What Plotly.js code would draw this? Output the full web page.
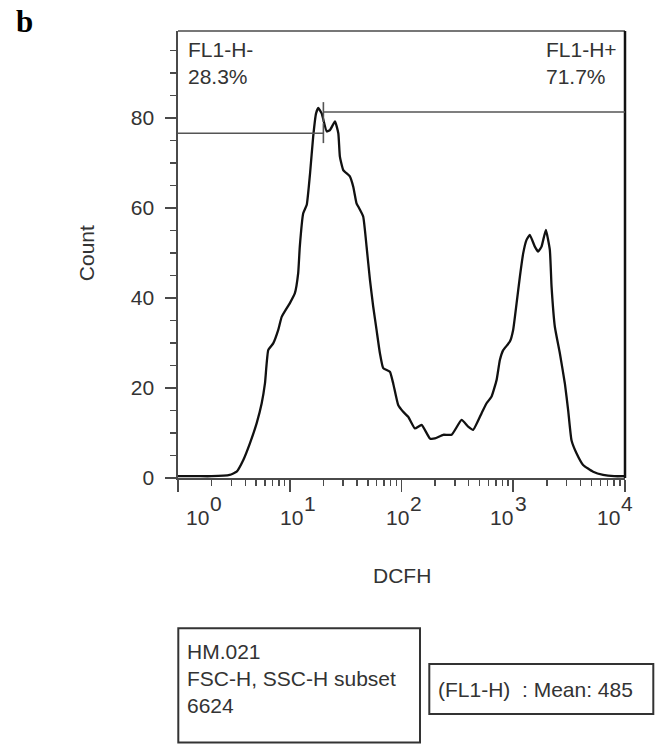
<!DOCTYPE html>
<html>
<head>
<meta charset="utf-8">
<script src="https://cdn.plot.ly/plotly-3.0.1.min.js"></script>
<style>html,body{margin:0;padding:0;background:#fff;}#chart{width:661px;height:744px;}</style>
</head>
<body>
<div id="chart"></div>
<script>
// ---- data ----
var dcfh = [1.0, 1.5, 2.0, 2.9, 3.35, 3.84, 4.40, 5.06, 5.61, 6.00, 6.42, 7.11, 7.89, 8.47, 10.0, 11.1, 11.9, 12.3, 13.2, 14.2, 15.2, 16.2, 17.2, 18.0, 19.3, 21.4, 22.9, 25.4, 27.2, 28.1, 30.1, 34.5, 37.0, 39.6, 41.0, 45.4, 48.7, 52.2, 55.8, 59.8, 64.1, 68.6, 78.7, 84.3, 93.4, 103.5, 114.8, 131.8, 151.3, 179.5, 199, 236, 281, 345, 395, 438, 521, 577, 640, 710, 759, 813, 933, 998, 1071, 1146, 1227, 1315, 1406, 1560, 1671, 1791, 1958, 2125, 2202, 2356, 2612, 2896, 3099, 3321, 3681, 4218, 5188, 6370, 8000, 10000];
var counts = [0.4, 0.4, 0.4, 0.7, 1.4, 4.0, 7.7, 12.2, 16.6, 21.0, 28.4, 29.9, 32.9, 35.8, 38.8, 41.0, 45.5, 51.4, 58.8, 60.7, 67.7, 75.8, 81.0, 82.2, 81.0, 77.0, 77.3, 79.2, 76.6, 71.4, 68.4, 67.0, 64.7, 61.0, 60.3, 58.1, 51.4, 44.0, 38.1, 32.9, 27.7, 24.4, 23.6, 21.0, 16.2, 14.7, 13.6, 11.0, 11.8, 8.8, 8.8, 9.6, 9.6, 12.9, 11.4, 10.7, 14.4, 16.6, 18.1, 21.8, 26.2, 28.4, 30.3, 32.9, 38.8, 44.7, 49.9, 52.9, 54.0, 51.4, 50.3, 51.4, 55.1, 50.7, 42.5, 33.6, 27.7, 21.0, 15.1, 8.4, 5.5, 2.9, 1.4, 0.7, 0.4, 0.4];

var xTickVals = [1, 10, 100, 1000, 10000];
var xTickExp = ["0", "1", "2", "3", "4"];
var yTickVals = [0, 20, 40, 60, 80];

// gates
var gateSplit = 20;
var gateLeft = {name: "FL1-H-", pct: "28.3%", level: 76.6};
var gateRight = {name: "FL1-H+", pct: "71.7%", level: 81.3};

var infoLines = ["HM.021", "FSC-H, SSC-H subset", "6624"];
var statText = "(FL1-H)  : Mean: 485";
var xTitle = "DCFH", yTitle = "Count", panel = "b";

// ---- layout helpers (pixel -> paper) ----
var L = 178, R = 625, T = 31, B = 478, W = 661, H = 744;
function X(px){ return (px - L) / (R - L); }
function Y(py){ return (B - py) / (B - T); }

var minorVals = [];
for (var d = 0; d < 4; d++) for (var m = 2; m <= 9; m++) minorVals.push(m * Math.pow(10, d));

var FONT = "Liberation Sans, Arial, sans-serif";
var TXT = "#333";
var AX = "#4a4a4a";

var trace = {
  x: dcfh, y: counts, type: "scatter", mode: "lines",
  line: {color: "#111", width: 2.3, shape: "spline", smoothing: 0.4},
  hoverinfo: "skip"
};

var shapes = [
  // top border & right border
  {type: "line", xref: "paper", yref: "paper", x0: 0, x1: 1, y0: 1, y1: 1, line: {color: AX, width: 1.6}},
  {type: "line", xref: "paper", yref: "paper", x0: 1, x1: 1, y0: 0, y1: 1, line: {color: "#111", width: 2.5}},
  // gates
  {type: "line", xref: "x", yref: "y", x0: xTickVals[0], x1: gateSplit, y0: gateLeft.level, y1: gateLeft.level, line: {color: "#555", width: 1.6}},
  {type: "line", xref: "x", yref: "y", x0: gateSplit, x1: gateSplit, y0: gateLeft.level - 2.2, y1: gateLeft.level + 2.2, line: {color: "#555", width: 1.6}},
  {type: "line", xref: "x", yref: "y", x0: gateSplit, x1: xTickVals[4], y0: gateRight.level, y1: gateRight.level, line: {color: "#555", width: 1.6}},
  {type: "line", xref: "x", yref: "y", x0: gateSplit, x1: gateSplit, y0: gateRight.level - 2.2, y1: gateRight.level + 2.2, line: {color: "#555", width: 1.6}},
  // info boxes
  {type: "rect", xref: "paper", yref: "paper", x0: X(178.3), x1: X(420), y0: Y(742.5), y1: Y(628.3), line: {color: "#333", width: 2}},
  {type: "rect", xref: "paper", yref: "paper", x0: X(429.3), x1: X(653.3), y0: Y(714), y1: Y(664), line: {color: "#333", width: 2}}
];

function txt(text, px, py, opts){
  var a = {text: text, xref: "paper", yref: "paper", x: X(px), y: Y(py),
    xanchor: "left", yanchor: "middle", showarrow: false,
    font: {family: FONT, size: 21, color: TXT}};
  for (var k in (opts || {})) a[k] = opts[k];
  return a;
}

var ann = [];
ann.push(txt(gateLeft.name, 186, 50));
ann.push(txt(gateLeft.pct, 186, 76.5));
ann.push(txt(gateRight.name, 544, 50));
ann.push(txt(gateRight.pct, 544, 76.5));
ann.push(txt(infoLines[0], 185, 651));
ann.push(txt(infoLines[1], 185, 678));
ann.push(txt(infoLines[2], 185, 705));
ann.push(txt(statText, 435.5, 689));
ann.push(txt(yTitle, 86.7, 253.5, {xanchor: "center", textangle: -90}));
ann.push(txt(xTitle, 401.8, 575, {xanchor: "center"}));
ann.push(txt(panel, 24.5, 21, {xanchor: "center", font: {family: "Liberation Serif, Times New Roman, serif", size: 31, color: "#000", weight: "bold"}}));

// x tick labels as "10" + raised exponent
var labelShift = [19, 1.7, -4, -11.3, -16.7];
for (var i = 0; i < xTickVals.length; i++) {
  var lx = Math.log10(xTickVals[i]);
  ann.push({text: "10", xref: "x", yref: "paper", x: lx, y: 0, xshift: labelShift[i], yshift: -39.5,
    xanchor: "center", yanchor: "middle", showarrow: false, font: {family: FONT, size: 21, color: TXT}});
  ann.push({text: xTickExp[i], xref: "x", yref: "paper", x: lx, y: 0, xshift: labelShift[i] + 18.6, yshift: -25,
    xanchor: "center", yanchor: "middle", showarrow: false, font: {family: FONT, size: 21, color: TXT}});
}

var layout = {
  width: W, height: H,
  margin: {l: L, r: W - R, t: T, b: H - B, pad: 0},
  paper_bgcolor: "#fff", plot_bgcolor: "#fff",
  showlegend: false,
  font: {family: FONT, size: 21, color: TXT},
  xaxis: {
    type: "log", range: [0, 4], fixedrange: true,
    showgrid: false, zeroline: false,
    showline: true, linecolor: AX, linewidth: 1.6,
    ticks: "outside", tickmode: "array", tickvals: xTickVals, ticklen: 12, tickwidth: 1.6, tickcolor: AX,
    showticklabels: false,
    minor: {tickmode: "array", tickvals: minorVals, ticks: "outside", ticklen: 6, tickwidth: 1.4, tickcolor: AX, showgrid: false}
  },
  yaxis: {
    range: [0, 99.3], fixedrange: true,
    showgrid: false, zeroline: false,
    showline: true, linecolor: AX, linewidth: 1.6,
    ticks: "outside", tickmode: "array", tickvals: yTickVals, ticklen: 11, tickwidth: 1.6, tickcolor: AX,
    ticklabelstandoff: 7,
    tickfont: {family: FONT, size: 21, color: TXT},
    minor: {dtick: 5, ticks: "outside", ticklen: 6, tickwidth: 1.4, tickcolor: AX, showgrid: false}
  },
  shapes: shapes,
  annotations: ann
};

Plotly.newPlot("chart", [trace], layout, {staticPlot: true, displayModeBar: false});
</script>
</body>
</html>
